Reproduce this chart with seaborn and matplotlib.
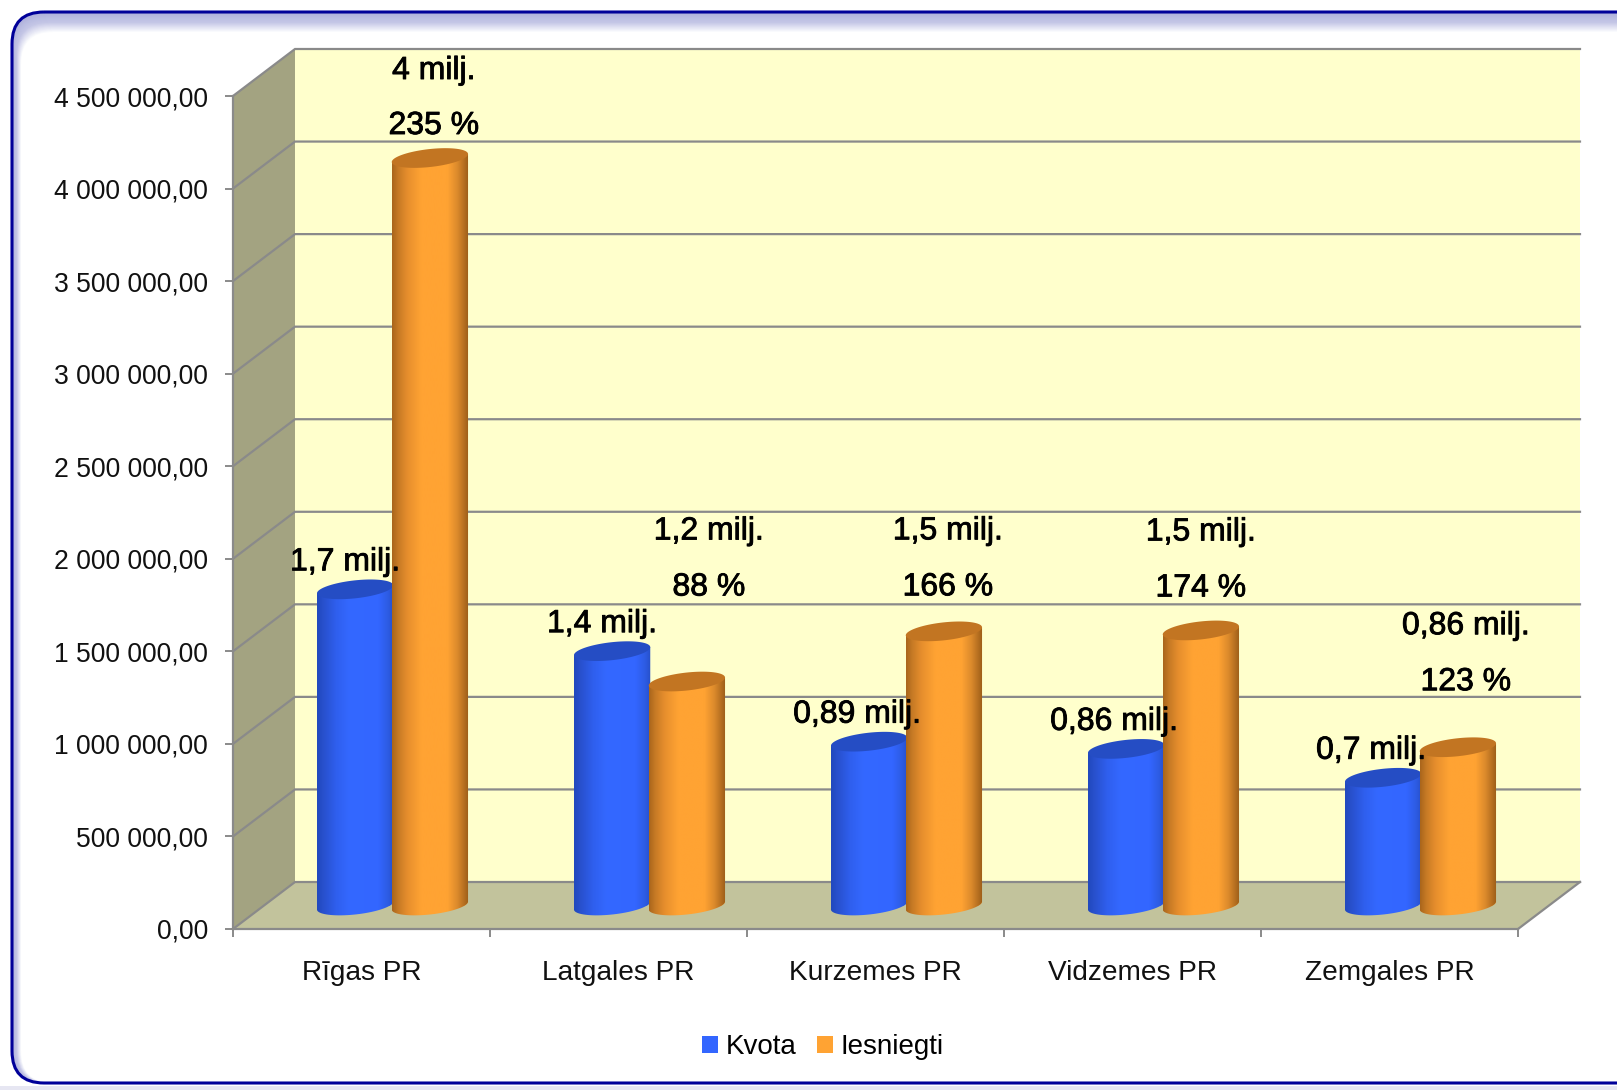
import numpy as np
import pandas as pd
import seaborn as sns
import matplotlib.pyplot as plt
from matplotlib.colors import LinearSegmentedColormap
from matplotlib.patches import Polygon, FancyBboxPatch
import matplotlib.patheffects as pe

regions = ["Rīgas PR", "Latgales PR", "Kurzemes PR", "Vidzemes PR", "Zemgales PR"]
kvota = [1708000, 1374000, 885000, 846000, 690000]
iesniegti = [4038000, 1210000, 1481000, 1486000, 855000]
kvota_labels = ["1,7 milj.", "1,4 milj.", "0,89 milj.", "0,86 milj.", "0,7 milj."]
iesniegti_labels = ["4 milj.", "1,2 milj.", "1,5 milj.", "1,5 milj.", "0,86 milj."]
percent_labels = ["235 %", "88 %", "166 %", "174 %", "123 %"]
y_ticks = [0, 500000, 1000000, 1500000, 2000000, 2500000, 3000000, 3500000, 4000000, 4500000]
y_tick_labels = ["0,00", "500 000,00", "1 000 000,00", "1 500 000,00", "2 000 000,00",
                 "2 500 000,00", "3 000 000,00", "3 500 000,00", "4 000 000,00", "4 500 000,00"]

W, H = 1617, 1090
plt.rcParams["font.family"] = ["Liberation Sans", "DejaVu Sans"]
GREY = "#8a8a8a"

df = pd.DataFrame({
    "region": regions * 2,
    "value": kvota + iesniegti,
    "series": ["Kvota"] * 5 + ["Iesniegti"] * 5,
})

fig = plt.figure(figsize=(W / 100, H / 100), dpi=100)

# rounded frame with the soft inner shadow, in pixel coordinates
bg = fig.add_axes([0, 0, 1, 1], zorder=0)
bg.set_xlim(0, W)
bg.set_ylim(H, 0)
bg.axis("off")
bg.add_patch(plt.Rectangle((0, 1086), W, 4, color="#e6e6f2", lw=0))
box = dict(boxstyle="round,pad=0,rounding_size=32", lw=0)
shadow = LinearSegmentedColormap.from_list("s", ["#aeb1db", "#c4c6e6", "#ffffff"])
for i in range(21):
    bg.add_patch(FancyBboxPatch((12 + i * 0.45, 12 + i), W + 40, 1071 - i,
                                facecolor=shadow(i / 20), **box))
bg.add_patch(FancyBboxPatch((12, 12), W + 40, 1071, facecolor="none",
                            boxstyle="round,pad=0,rounding_size=32",
                            edgecolor="#000099", lw=2.2))

ax = fig.add_axes([233 / W, 1 - 929 / H, (1518 - 233) / W, (929 - 96) / H], zorder=1)
ax.patch.set_alpha(0)

sns.barplot(data=df, x="region", y="value", hue="series", order=regions,
            hue_order=["Kvota", "Iesniegti"], palette=["#3366ff", "#ffa333"],
            width=0.582, gap=-0.02, saturation=1, ax=ax)

# pixel sizes turned into data units
px_x = 5 / (1518 - 233)
px_y = 4500000 / (929 - 96)
dx = 62 * px_x
dy = 47 * px_y

# walls and floor of the 3d box
top = 4500000
ax.add_patch(Polygon([(-0.5, 0), (-0.5 + dx, dy), (-0.5 + dx, top + dy), (-0.5, top)],
                     facecolor="#a3a381", lw=0, zorder=1, clip_on=False))
ax.add_patch(Polygon([(-0.5 + dx, dy), (4.5 + dx, dy), (4.5 + dx, top + dy), (-0.5 + dx, top + dy)],
                     facecolor="#ffffcc", lw=0, zorder=1, clip_on=False))
ax.add_patch(Polygon([(-0.5, 0), (4.5, 0), (4.5 + dx, dy), (-0.5 + dx, dy)],
                     facecolor="#c2c39c", lw=0, zorder=1, clip_on=False))
for v in y_ticks:
    ax.plot([-0.5, -0.5 + dx, 4.5 + dx], [v, v + dy, v + dy], color=GREY, lw=1.6,
            zorder=1.5, clip_on=False, solid_joinstyle="miter")
ax.plot([4.5, 4.5 + dx], [0, dy], color=GREY, lw=1.6, zorder=1.5, clip_on=False)

blue_cmap = LinearSegmentedColormap.from_list("b", [(0, "#2149bd"), (0.08, "#2850cc"), (0.25, "#2f5fee"), (0.42, "#3468ff"),
                                                    (0.8, "#3366ff"), (0.93, "#2d5be2"), (1, "#2650c8")])
orange_cmap = LinearSegmentedColormap.from_list("o", [(0, "#a9651c"), (0.08, "#c67a25"), (0.2, "#e68e2d"), (0.38, "#ffa333"),
                                                      (0.72, "#ffa333"), (0.85, "#dc8a2c"), (0.94, "#b56f20"), (1, "#9a5c18")])
cmaps = [blue_cmap, orange_cmap]
lid_colors = ["#254dc4", "#c27522"]

s = 4 * px_y    # tilt of the ellipses
b = 9 * px_y    # half height of the ellipses
t = np.linspace(0, np.pi, 40)
centers = []
for n, container in enumerate(ax.containers):
    z = 3 + n
    tops = []
    for bar in container:
        bar.set_x(bar.get_x() + dx / 2)
        bar.set_y(dy / 2)
        bar.set_zorder(z)
        x0, w, h = bar.get_x(), bar.get_width(), bar.get_height()
        cx, a = x0 + w / 2, w / 2
        y_base, y_top = dy / 2, dy / 2 + h
        under = np.column_stack([cx + a * np.cos(t), y_base + s * np.cos(t) - b * np.sin(t)])
        body = Polygon(np.vstack([[(x0, y_top - s), (x0 + w, y_top + s)], under]),
                       facecolor="none", lw=0, zorder=z)
        ax.add_patch(body)
        bar.set_clip_path(body)
        im = ax.imshow(np.linspace(0, 1, 256)[None, :], extent=(x0, x0 + w, y_base - 3 * b, y_top + 2 * s),
                       aspect="auto", cmap=cmaps[n], zorder=z + 0.1, interpolation="bilinear")
        im.set_clip_path(body)
        # lid of the cylinder
        full = np.linspace(0, 2 * np.pi, 80)
        ax.add_patch(Polygon(np.column_stack([cx + a * np.cos(full),
                                              y_top + s * np.cos(full) + b * np.sin(full)]),
                             facecolor=lid_colors[n], lw=0, zorder=z + 0.2))
        tops.append((cx, y_top))
    centers.append(tops)

ax.set_xlim(-0.5, 4.5)
ax.set_ylim(0, 4500000)

# data labels, offsets in pixels from the top of each cylinder
text_fx = [pe.withStroke(linewidth=0.6, foreground="black")]
kvota_shift = [-10, -10, -12, -12, -12]
orange_offsets = [(4, 87, 32), (22, 150, 94), (4, 100, 44), (0, 98, 42), (8, 121, 65)]
for i in range(5):
    ax.annotate(kvota_labels[i], centers[0][i], xytext=(kvota_shift[i], 27), textcoords="offset pixels",
                ha="center", va="center", fontsize=23, zorder=6, path_effects=text_fx)
    off = orange_offsets[i]
    ax.annotate(iesniegti_labels[i], centers[1][i], xytext=(off[0], off[1]), textcoords="offset pixels",
                ha="center", va="center", fontsize=23, zorder=6, path_effects=text_fx,
                annotation_clip=False)
    ax.annotate(percent_labels[i], centers[1][i], xytext=(off[0], off[2]), textcoords="offset pixels",
                ha="center", va="center", fontsize=23, zorder=6, path_effects=text_fx,
                annotation_clip=False)

sns.despine(ax=ax, top=True, right=True)
ax.spines["left"].set_color(GREY)
ax.spines["bottom"].set_color(GREY)
ax.spines["left"].set_linewidth(1.6)
ax.spines["bottom"].set_linewidth(1.6)
ax.spines["left"].set_zorder(2)
ax.spines["bottom"].set_zorder(2)
ax.set_xlabel("")
ax.set_ylabel("")
ax.set_yticks(y_ticks, y_tick_labels)
ax.set_xticks(range(5), regions)
ax.set_xticks(np.arange(-0.5, 5), minor=True)
ax.tick_params(axis="y", length=6, width=1.4, color=GREY, labelsize=19.1, pad=12, labelcolor="#111111")
ax.tick_params(axis="x", which="major", length=0, labelsize=20.2, pad=22.5, labelcolor="#111111")
ax.tick_params(axis="x", which="minor", length=6, width=1.4, color=GREY)

sns.move_legend(ax, "center", bbox_to_anchor=(823 / W, 1 - 1047 / H), bbox_transform=fig.transFigure,
                ncol=2, frameon=False, title=None, fontsize=20, handlelength=0.56, handleheight=0.56,
                handletextpad=0.28, columnspacing=0.74)

fig.savefig("out.png", dpi=100)
